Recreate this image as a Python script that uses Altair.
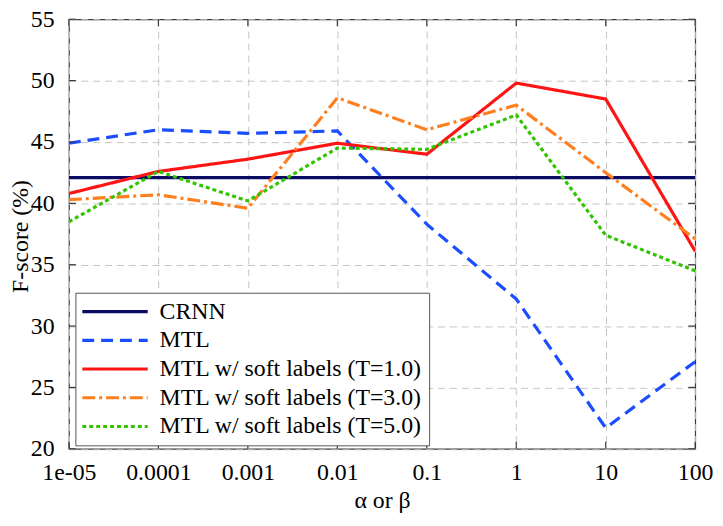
import altair as alt
import pandas as pd

x_labels = ["1e-05", "0.0001", "0.001", "0.01", "0.1", "1", "10", "100"]
y_ticks = [20, 25, 30, 35, 40, 45, 50, 55]
series_names = [
    "CRNN",
    "MTL",
    "MTL w/ soft labels (T=1.0)",
    "MTL w/ soft labels (T=3.0)",
    "MTL w/ soft labels (T=5.0)",
]
crnn = [42.1, 42.1, 42.1, 42.1, 42.1, 42.1, 42.1, 42.1]
mtl = [44.9, 46.0, 45.7, 45.9, 38.3, 32.2, 21.7, 27.1]
soft_t1 = [40.8, 42.6, 43.6, 44.9, 44.0, 49.8, 48.5, 36.1]
soft_t3 = [40.3, 40.7, 39.6, 48.6, 46.0, 48.0, 42.5, 37.1]
soft_t5 = [38.5, 42.6, 40.2, 44.5, 44.4, 47.2, 37.4, 34.5]

colors = ["#0b0b66", "#1a4dff", "#ff1414", "#ff7f1e", "#33c400"]
dashes = [[1, 0], [12, 7], [1, 0], [13, 4, 3, 4], [4, 3]]

rows = []
for name, vals in zip(series_names, [crnn, mtl, soft_t1, soft_t3, soft_t5]):
    for xl, v in zip(x_labels, vals):
        rows.append({"alpha": xl, "fscore": v, "series": name})
df = pd.DataFrame(rows)
df_xt = pd.DataFrame({"alpha": x_labels})
df_yt = pd.DataFrame({"fscore": y_ticks})

FONT = "Liberation Serif"
W = 632
H = 433.5
TICK = 7
TICK_COLOR = "#3a3a3a"

axis_common = dict(
    labelFont=FONT,
    titleFont=FONT,
    labelFontSize=24,
    titleFontSize=24,
    titleFontWeight="normal",
    grid=True,
    gridDash=[7, 5],
    gridColor="#c4c4c4",
    ticks=False,
    domain=False,
    labelColor="black",
    titleColor="black",
)

x_enc = alt.X(
    "alpha:N",
    sort=x_labels,
    scale=alt.Scale(type="point", padding=0, domain=x_labels),
    axis=alt.Axis(
        title="α or β",
        labelAngle=0,
        labelPadding=12,
        titlePadding=4,
        **axis_common,
    ),
)
y_enc = alt.Y(
    "fscore:Q",
    scale=alt.Scale(domain=[20, 55], nice=False, zero=False),
    axis=alt.Axis(
        title="F-score (%)",
        values=y_ticks,
        labelPadding=15,
        titleX=-48.5,
        titleY=H / 2 + 2,
        titleBaseline="middle",
        titleAlign="center",
        titleAngle=270,
        **axis_common,
    ),
)

lines = (
    alt.Chart(df)
    .mark_line(strokeWidth=3.2, clip=True)
    .encode(
        x=x_enc,
        y=y_enc,
        color=alt.Color(
            "series:N",
            sort=series_names,
            scale=alt.Scale(domain=series_names, range=colors),
            legend=alt.Legend(
                title=None,
                orient="none",
                legendX=6.5,
                legendY=276,
                labelFontSize=24,
                labelFont=FONT,
                labelColor="black",
                symbolType="M-1.2,0H5.4",
                symbolSize=400,
                symbolStrokeWidth=3.2,
                labelOffset=54,
                rowPadding=5,
                padding=7,
                strokeColor="#555555",
                fillColor="white",
                cornerRadius=0,
                labelLimit=400,
            ),
        ),
        strokeDash=alt.StrokeDash(
            "series:N",
            sort=series_names,
            scale=alt.Scale(domain=series_names, range=dashes),
            legend=alt.Legend(title=None),
        ),
    )
)

tick_style = dict(color=TICK_COLOR, strokeWidth=1.2)
x_ticks_bottom = alt.Chart(df_xt).mark_rule(**tick_style).encode(
    x=x_enc, y=alt.value(H - TICK), y2=alt.value(H)
)
x_ticks_top = alt.Chart(df_xt).mark_rule(**tick_style).encode(
    x=x_enc, y=alt.value(0), y2=alt.value(TICK)
)
y_ticks_left = alt.Chart(df_yt).mark_rule(**tick_style).encode(
    y=y_enc, x=alt.value(0), x2=alt.value(TICK)
)
y_ticks_right = alt.Chart(df_yt).mark_rule(**tick_style).encode(
    y=y_enc, x=alt.value(W - TICK), x2=alt.value(W)
)

chart = (
    alt.layer(lines, x_ticks_bottom, x_ticks_top, y_ticks_left, y_ticks_right)
    .properties(
        width=W,
        height=H,
        autosize=alt.AutoSizeParams(type="none"),
        padding={"left": 61.5, "top": 9, "right": 20, "bottom": 70},
    )
    .configure(font=FONT)
    .configure_view(stroke="#3a3a3a", strokeWidth=1.2)
)

chart.save("out.html", embed_options={"renderer": "svg", "actions": False})
